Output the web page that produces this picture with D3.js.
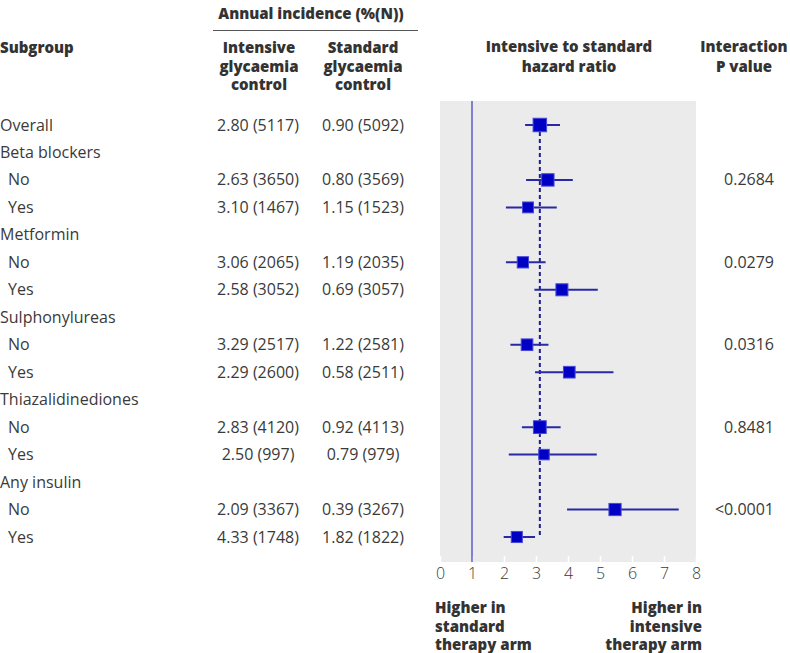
<!DOCTYPE html>
<html><head><meta charset="utf-8">
<script src="https://cdn.jsdelivr.net/npm/d3@7"></script>
<style>
body{margin:0;background:#fff;}
svg{display:block;}
text{font-family:"Open Sans","Noto Sans",sans-serif;fill:#3a3a3a;}
.b{font-weight:800;fill:#333;}
</style></head>
<body>
<svg id="c" width="790" height="653"></svg>
<script>
// ---- data ----
const labels = ["Overall","Beta blockers","No","Yes","Metformin","No","Yes","Sulphonylureas","No","Yes","Thiazalidinediones","No","Yes","Any insulin","No","Yes"];
const levels = [0,0,1,1,0,1,1,0,1,1,0,1,1,0,1,1];
const intensiveRate = [2.80,null,2.63,3.10,null,3.06,2.58,null,3.29,2.29,null,2.83,2.50,null,2.09,4.33];
const intensiveN    = [5117,null,3650,1467,null,2065,3052,null,2517,2600,null,4120,997,null,3367,1748];
const standardRate  = [0.90,null,0.80,1.15,null,1.19,0.69,null,1.22,0.58,null,0.92,0.79,null,0.39,1.82];
const standardN     = [5092,null,3569,1523,null,2035,3057,null,2581,2511,null,4113,979,null,3267,1822];
const hr    = [3.12,null,3.37,2.75,null,2.59,3.81,null,2.72,4.04,null,3.12,3.25,null,5.47,2.40];
const hrLow = [2.66,null,2.69,2.06,null,2.06,2.95,null,2.20,2.97,null,2.56,2.15,null,3.97,1.99];
const hrHigh= [3.75,null,4.15,3.65,null,3.30,4.93,null,3.39,5.42,null,3.77,4.90,null,7.46,2.97];
const pValues = [null,null,"0.2684",null,null,"0.0279",null,null,"0.0316",null,null,"0.8481",null,null,"<0.0001",null];
const xTicks = [0,1,2,3,4,5,6,7,8];
const overallHR = hr[0];
const nullHR = 1;

// ---- layout ----
const svg = d3.select("#c");
const x = d3.scaleLinear().domain([0,8]).range([440,696]);
const y = d3.scalePoint().domain(d3.range(labels.length)).range([125,537]);
const panelTop = 101, panelBottom = 562;
const totalN = labels.map((d,i)=> intensiveN[i]==null?null:intensiveN[i]+standardN[i]);
const size = d3.scaleLinear().domain(d3.extent(totalN.filter(v=>v!=null))).range([10.5,13.5]);
const fs = 16, hfs = 15;
const fmt = d3.format(".2f");

// headers
svg.append("text").attr("class","b").attr("x",311).attr("y",19).attr("text-anchor","middle").attr("font-size",hfs).text("Annual incidence (%(N))");
svg.append("line").attr("x1",213).attr("x2",418).attr("y1",30.5).attr("y2",30.5).attr("stroke","#555").attr("stroke-width",1.2);
svg.append("text").attr("class","b").attr("x",0).attr("y",53).attr("font-size",hfs).text("Subgroup");
function multi(lines,cx,y0,lh,anchor){
  const t = svg.append("text").attr("class","b").attr("font-size",hfs).attr("text-anchor",anchor||"middle");
  lines.forEach((l,i)=>t.append("tspan").attr("x",cx).attr("y",y0+i*lh).text(l));
}
multi(["Intensive","glycaemia","control"],259,53,18.5);
multi(["Standard","glycaemia","control"],363,53,18.5);
multi(["Intensive to standard","hazard ratio"],569,52,20);
multi(["Interaction","P value"],744,52,20);

// panel
svg.append("rect").attr("x",x(0)).attr("y",panelTop).attr("width",x(8)-x(0)).attr("height",panelBottom-panelTop).attr("fill","#ebebeb");

// axis
const ax = svg.append("g").attr("transform",`translate(0,${panelBottom})`)
  .call(d3.axisBottom(x).tickValues(xTicks).tickFormat(d3.format("d")).tickSizeInner(-6).tickSizeOuter(0).tickPadding(6));
ax.select(".domain").remove();
ax.selectAll(".tick line").attr("stroke","#fff").attr("stroke-width",1.5);
ax.selectAll(".tick text").attr("font-size",16).attr("font-family","'Open Sans',sans-serif").style("font-weight",300).attr("fill","#444");

// reference lines
svg.append("line").attr("x1",x(nullHR)).attr("x2",x(nullHR)).attr("y1",panelTop).attr("y2",panelBottom).attr("stroke","#3a3ac0").attr("stroke-width",1.2);
svg.append("line").attr("x1",x(overallHR)).attr("x2",x(overallHR)).attr("y1",y(0)).attr("y2",y(labels.length-1)).attr("stroke","#1e1e90").attr("stroke-width",2).attr("stroke-dasharray","4,3");

// rows
labels.forEach((lab,i)=>{
  const yy = y(i);
  svg.append("text").attr("x",levels[i]?8:0).attr("y",yy+5.5).attr("font-size",fs).text(lab);
  if(intensiveRate[i]!=null){
    svg.append("text").attr("x",258).attr("y",yy+5.5).attr("text-anchor","middle").attr("font-size",fs).text(`${fmt(intensiveRate[i])} (${intensiveN[i]})`);
    svg.append("text").attr("x",363).attr("y",yy+5.5).attr("text-anchor","middle").attr("font-size",fs).text(`${fmt(standardRate[i])} (${standardN[i]})`);
  }
  if(pValues[i]!=null){
    svg.append("text").attr("x",774).attr("y",yy+5.5).attr("text-anchor","end").attr("font-size",fs).text(pValues[i]);
  }
  if(hr[i]!=null){
    svg.append("line").attr("x1",x(hrLow[i])).attr("x2",x(hrHigh[i])).attr("y1",yy).attr("y2",yy).attr("stroke","#2828a8").attr("stroke-width",2);
    const s = size(totalN[i]);
    svg.append("rect").attr("x",x(hr[i])-s/2).attr("y",yy-s/2).attr("width",s).attr("height",s)
      .attr("fill","#0000c4").attr("stroke","#4848d8").attr("stroke-width",1);
  }
});

// bottom labels
multi(["Higher in","standard","therapy arm"],435,613,18.5,"start");
multi(["Higher in","intensive","therapy arm"],702,613,18.5,"end");
</script>
</body></html>
